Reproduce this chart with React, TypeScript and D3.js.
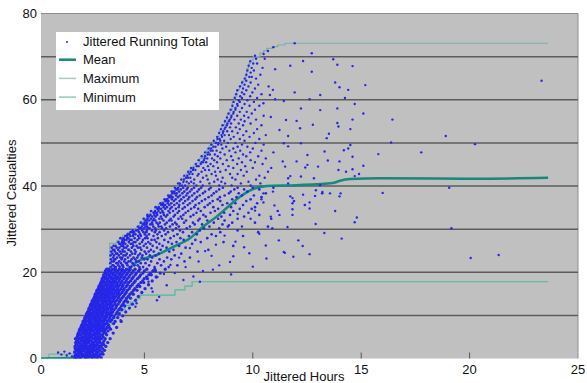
import React from 'react';
import * as d3 from 'd3';

// axis ticks
const xTicks = [0, 5, 10, 15, 20, 25];
const yTicks = [0, 20, 40, 60, 80];
const gridValues = [10, 20, 30, 40, 50, 60, 70];

// jittered running totals, one row per casualty level: [casualties, hours[]]
const coreRows: [number, number[]][] = [
  [0.2, [1.8, 1.87, 2.0, 2.09, 2.25, 2.31, 2.42, 2.56, 2.64, 2.76, 2.86, 3.01]],
  [0.6, [1.79, 1.91, 1.97, 2.13, 2.23, 2.29, 2.37, 2.51, 2.6, 2.7, 2.85, 2.92]],
  [1.0, [1.84, 1.9, 2.05, 2.11, 2.18, 2.34, 2.44, 2.49, 2.66, 2.73, 2.8, 2.97, 3.09]],
  [1.5, [1.78, 1.95, 2.02, 2.1, 2.27, 2.33, 2.47, 2.55, 2.62, 2.79, 2.88, 3.05]],
  [1.9, [1.86, 1.93, 2.07, 2.16, 2.21, 2.39, 2.43, 2.58, 2.71, 2.77, 2.95, 3.16]],
  [2.3, [1.82, 1.88, 1.99, 2.12, 2.2, 2.3, 2.41, 2.52, 2.63, 2.68, 2.83, 2.91, 3.07]],
  [2.8, [1.8, 1.96, 2.04, 2.15, 2.24, 2.36, 2.45, 2.53, 2.65, 2.75, 2.9, 3.0, 3.22]],
  [3.2, [1.85, 1.9, 2.06, 2.1, 2.26, 2.32, 2.49, 2.58, 2.7, 2.8, 2.86, 3.03, 3.13]],
  [3.7, [1.83, 1.98, 2.02, 2.19, 2.28, 2.35, 2.43, 2.6, 2.67, 2.82, 2.94, 3.08, 3.31]],
  [4.1, [1.88, 1.93, 2.08, 2.14, 2.23, 2.38, 2.5, 2.55, 2.72, 2.78, 2.93, 3.14]],
  [4.6, [1.82, 1.97, 2.05, 2.17, 2.3, 2.34, 2.46, 2.62, 2.69, 2.81, 2.89, 3.02, 3.19, 3.42]],
  [5.0, [1.9, 1.95, 2.11, 2.2, 2.27, 2.41, 2.52, 2.58, 2.74, 2.86, 2.95, 3.1]],
  [5.5, [1.92, 2.04, 2.09, 2.25, 2.32, 2.45, 2.56, 2.65, 2.7, 2.84, 2.99, 3.06, 3.26]],
  [5.9, [1.95, 2.0, 2.15, 2.24, 2.37, 2.43, 2.51, 2.67, 2.78, 2.87, 2.92, 3.12, 3.21, 3.56]],
  [6.4, [1.99, 2.1, 2.18, 2.29, 2.35, 2.5, 2.61, 2.66, 2.8, 2.93, 3.03, 3.16, 3.32]],
  [6.8, [2.02, 2.08, 2.22, 2.31, 2.44, 2.53, 2.59, 2.75, 2.83, 2.97, 3.08, 3.2, 3.44]],
  [7.2, [2.07, 2.16, 2.24, 2.39, 2.47, 2.55, 2.7, 2.78, 2.89, 3.0, 3.11, 3.27, 3.38, 3.72]],
  [7.7, [2.1, 2.2, 2.33, 2.38, 2.52, 2.63, 2.69, 2.84, 2.94, 3.06, 3.15, 3.35]],
  [8.1, [2.15, 2.23, 2.3, 2.45, 2.57, 2.62, 2.77, 2.88, 2.96, 3.11, 3.24, 3.3, 3.58]],
  [8.6, [2.17, 2.28, 2.41, 2.49, 2.55, 2.72, 2.81, 2.91, 3.03, 3.12, 3.28, 3.43, 3.65, 3.93]],
  [9.0, [2.23, 2.3, 2.44, 2.52, 2.66, 2.74, 2.87, 2.95, 3.09, 3.2, 3.36, 3.5]],
  [9.5, [2.25, 2.37, 2.46, 2.6, 2.68, 2.79, 2.92, 3.01, 3.16, 3.24, 3.39, 3.58, 3.77]],
  [9.9, [2.31, 2.4, 2.5, 2.58, 2.73, 2.84, 2.9, 3.06, 3.19, 3.27, 3.45, 3.6, 4.0]],
  [10.4, [2.33, 2.46, 2.56, 2.64, 2.77, 2.88, 3.0, 3.08, 3.23, 3.35, 3.48, 3.7, 3.84]],
  [10.8, [2.38, 2.47, 2.62, 2.7, 2.8, 2.94, 3.04, 3.14, 3.28, 3.42, 3.54, 3.75, 4.14]],
  [11.3, [2.43, 2.51, 2.61, 2.76, 2.86, 2.96, 3.1, 3.2, 3.31, 3.47, 3.6, 3.82, 3.96]],
  [11.7, [2.45, 2.59, 2.69, 2.78, 2.91, 3.02, 3.12, 3.26, 3.38, 3.5, 3.68, 3.88, 4.31]],
  [12.2, [2.5, 2.6, 2.73, 2.84, 2.93, 3.07, 3.18, 3.28, 3.43, 3.55, 3.71, 3.94, 4.09]],
  [12.6, [2.53, 2.66, 2.76, 2.87, 3.0, 3.09, 3.24, 3.35, 3.46, 3.63, 3.78, 4.01, 4.45]],
  [13.1, [2.58, 2.69, 2.81, 2.9, 3.05, 3.16, 3.25, 3.4, 3.52, 3.65, 3.85, 4.06, 4.23]],
  [13.5, [2.61, 2.74, 2.84, 2.98, 3.06, 3.2, 3.33, 3.42, 3.58, 3.73, 3.89, 4.14, 4.59]],
  [14.0, [2.67, 2.77, 2.89, 3.01, 3.14, 3.23, 3.37, 3.5, 3.61, 3.79, 3.96, 4.18, 4.36]],
  [14.4, [2.71, 2.8, 2.95, 3.04, 3.17, 3.28, 3.4, 3.55, 3.67, 3.82, 4.03, 4.26, 4.72]],
  [14.9, [2.73, 2.87, 2.98, 3.1, 3.2, 3.35, 3.47, 3.58, 3.75, 3.88, 4.1, 4.33, 4.49]],
  [15.3, [2.79, 2.89, 3.01, 3.15, 3.25, 3.39, 3.5, 3.66, 3.8, 3.97, 4.16, 4.42, 4.88]],
  [15.8, [2.81, 2.95, 3.07, 3.17, 3.31, 3.42, 3.57, 3.71, 3.84, 4.03, 4.21, 4.5, 4.66]],
  [16.2, [2.87, 2.97, 3.11, 3.24, 3.34, 3.49, 3.6, 3.76, 3.92, 4.07, 4.3, 4.56, 5.03]],
  [16.7, [2.9, 3.03, 3.13, 3.28, 3.41, 3.52, 3.67, 3.8, 3.98, 4.16, 4.35, 4.66, 4.79]],
  [17.1, [2.95, 3.05, 3.2, 3.3, 3.45, 3.56, 3.72, 3.87, 4.02, 4.22, 4.44, 4.72, 5.19]],
  [17.6, [2.99, 3.11, 3.22, 3.37, 3.48, 3.63, 3.76, 3.93, 4.1, 4.27, 4.52, 4.83, 4.97]],
  [18.0, [3.03, 3.13, 3.28, 3.39, 3.54, 3.66, 3.83, 3.97, 4.16, 4.36, 4.58, 4.92, 5.36]],
  [18.5, [3.05, 3.19, 3.3, 3.46, 3.57, 3.73, 3.86, 4.05, 4.21, 4.43, 4.68, 4.99, 5.14]],
  [18.9, [3.11, 3.21, 3.37, 3.48, 3.64, 3.76, 3.94, 4.09, 4.29, 4.49, 4.76, 5.1, 5.54]],
  [19.4, [3.12, 3.27, 3.39, 3.55, 3.67, 3.84, 3.98, 4.17, 4.34, 4.58, 4.83, 5.2, 5.32]],
  [19.8, [3.18, 3.29, 3.45, 3.57, 3.74, 3.87, 4.05, 4.21, 4.43, 4.63, 4.93, 5.27, 5.73]],
  [20.3, [3.2, 3.35, 3.47, 3.64, 3.77, 3.95, 4.09, 4.29, 4.48, 4.73, 5.0, 5.39, 5.51]],
  [20.7, [3.26, 3.37, 3.53, 3.66, 3.84, 3.98, 4.17, 4.34, 4.57, 4.79, 5.11, 5.48, 5.96]],
];

const midRows: [number, number[]][] = [
  [21.2, [3.45, 3.63, 3.68, 3.86, 4.03, 4.32, 4.39, 4.77, 4.94, 5.47, 6.12]],
  [21.6, [3.53, 3.57, 3.8, 3.97, 4.0, 4.22, 4.54, 4.69, 5.22, 5.77, 6.52]],
  [22.1, [3.43, 3.71, 3.76, 3.92, 4.15, 4.19, 4.46, 4.83, 5.05, 5.6]],
  [22.5, [3.5, 3.59, 3.84, 4.07, 4.27, 4.36, 4.62, 4.73, 5.31, 5.9, 6.85]],
  [23.0, [3.46, 3.62, 3.66, 3.95, 4.11, 4.41, 4.58, 4.99, 5.14, 5.7, 6.24]],
  [23.4, [3.56, 3.74, 3.89, 3.98, 4.24, 4.5, 4.67, 4.88, 5.36, 6.05, 7.1]],
  [23.9, [3.44, 3.6, 3.82, 4.04, 4.13, 4.34, 4.72, 4.91, 5.25, 5.52, 6.4]],
  [24.3, [3.52, 3.7, 3.75, 3.93, 4.19, 4.44, 4.57, 4.8, 5.08, 5.66, 6.7]],
  [24.8, [3.47, 3.64, 3.87, 4.0, 4.09, 4.38, 4.6, 5.01, 5.2, 5.43, 6.15, 7.45]],
  [25.2, [3.55, 3.61, 3.79, 3.99, 4.26, 4.29, 4.55, 4.86, 5.3, 5.75, 6.34, 7.95]],
  [25.7, [3.49, 3.72, 3.85, 4.06, 4.16, 4.42, 4.7, 4.81, 5.12, 5.58, 6.02, 6.9]],
  [26.1, [3.58, 3.67, 3.94, 4.02, 4.22, 4.49, 4.64, 4.97, 5.38, 5.84, 6.6, 9.1]],
  [26.6, [3.84, 3.9, 4.01, 4.12, 4.37, 4.45, 4.78, 5.06, 5.27, 5.69, 6.27, 7.2]],
  [27.0, [3.8, 3.97, 4.05, 4.28, 4.51, 4.59, 4.89, 5.18, 5.55, 6.1, 6.48, 7.6, 8.65]],
  [27.5, [3.99, 4.07, 4.17, 4.33, 4.41, 4.68, 4.93, 5.33, 5.47, 5.92, 6.81, 7.35]],
  [27.9, [3.9, 4.04, 4.21, 4.26, 4.55, 4.76, 5.03, 5.14, 5.62, 6.2, 6.66, 7.9]],
  [28.4, [4.12, 4.2, 4.35, 4.47, 4.71, 4.84, 5.1, 5.42, 5.8, 6.36, 7.05, 8.3, 9.55]],
  [28.8, [4.23, 4.3, 4.5, 4.59, 4.8, 5.02, 5.21, 5.6, 5.98, 6.52, 7.42, 8.1]],
  [29.3, [4.36, 4.44, 4.52, 4.75, 4.96, 5.09, 5.48, 5.7, 6.09, 6.78, 7.2, 8.5, 10.25]],
  [29.7, [4.46, 4.62, 4.7, 4.9, 5.11, 5.35, 5.53, 5.91, 6.31, 6.64, 7.56, 9.3]],
  [30.2, [4.78, 4.84, 4.98, 5.15, 5.24, 5.5, 5.82, 6.0, 6.46, 6.95, 7.75, 8.45]],
  [30.6, [4.71, 4.88, 5.05, 5.13, 5.41, 5.66, 5.78, 6.18, 6.59, 7.1, 8.0, 8.85, 10.7]],
  [31.1, [4.93, 4.99, 5.09, 5.27, 5.37, 5.63, 5.95, 6.3, 6.49, 7.32, 7.66, 8.6]],
  [31.5, [4.84, 5.01, 5.12, 5.35, 5.56, 5.71, 6.03, 6.42, 6.83, 7.24, 8.2, 9.05, 10.1]],
  [32.0, [5.05, 5.1, 5.22, 5.39, 5.5, 5.88, 6.14, 6.25, 6.92, 7.48, 7.9, 8.7]],
  [32.4, [4.97, 5.14, 5.3, 5.44, 5.69, 5.81, 6.21, 6.57, 6.74, 7.55, 8.4, 9.3, 10.85]],
  [32.9, [5.16, 5.21, 5.36, 5.52, 5.76, 5.99, 6.35, 6.68, 7.13, 7.83, 8.55, 9.6]],
  [33.3, [5.14, 5.28, 5.46, 5.59, 5.9, 6.06, 6.41, 6.8, 7.26, 7.72, 8.95, 10.3]],
  [33.8, [5.42, 5.48, 5.58, 5.74, 5.87, 6.17, 6.53, 6.9, 7.4, 8.05, 8.68, 9.8]],
  [34.2, [5.31, 5.49, 5.65, 5.83, 6.11, 6.32, 6.6, 7.02, 7.6, 8.25, 9.1, 11.15]],
  [34.7, [5.6, 5.66, 5.77, 5.96, 6.19, 6.45, 6.76, 7.15, 7.48, 8.4, 9.4, 9.95]],
  [35.1, [5.52, 5.66, 5.89, 6.04, 6.26, 6.58, 6.86, 7.3, 7.78, 8.18, 9.0, 10.1]],
  [35.6, [5.78, 5.85, 5.96, 6.15, 6.38, 6.61, 7.0, 7.36, 7.92, 8.6, 9.55, 12.4]],
  [36.0, [5.74, 5.86, 6.08, 6.24, 6.5, 6.79, 7.1, 7.52, 8.02, 8.82, 9.2, 10.2]],
  [36.5, [5.97, 6.03, 6.11, 6.36, 6.62, 6.88, 7.22, 7.65, 8.15, 8.5, 9.7, 11.9]],
  [36.9, [5.93, 6.05, 6.27, 6.44, 6.7, 7.01, 7.35, 7.8, 8.38, 9.05, 9.9]],
  [37.4, [6.14, 6.2, 6.3, 6.55, 6.81, 7.07, 7.42, 7.96, 8.48, 9.25, 10.4]],
  [37.8, [6.1, 6.22, 6.46, 6.64, 6.93, 7.2, 7.55, 8.1, 8.7, 9.5, 10.05]],
  [38.3, [6.3, 6.39, 6.49, 6.75, 6.99, 7.3, 7.7, 8.2, 8.9, 9.35, 10.6, 13.2]],
  [38.7, [6.26, 6.38, 6.6, 6.84, 7.1, 7.44, 7.8, 8.32, 8.98, 9.75]],
  [39.2, [6.47, 6.53, 6.68, 6.95, 7.18, 7.52, 7.98, 8.45, 9.15, 9.6, 10.3]],
  [39.6, [6.41, 6.56, 6.79, 7.0, 7.29, 7.62, 8.06, 8.62, 9.3, 10.0, 10.95]],
];

const upperRows: [number, number[]][] = [
  [40.1, [6.64, 6.74, 6.88, 7.4, 7.69, 8.45, 9.02, 9.9]],
  [40.6, [6.55, 6.63, 7.05, 7.28, 8.0, 8.72, 9.45, 10.35]],
  [41.0, [6.8, 6.95, 7.16, 7.58, 8.22, 8.55, 9.8]],
  [41.5, [6.7, 6.83, 7.3, 7.92, 8.38, 9.2, 10.15]],
  [41.9, [6.92, 7.01, 7.12, 7.7, 8.61, 9.05, 10.55]],
  [42.4, [6.84, 6.98, 7.45, 7.86, 8.3, 9.58, 10.3]],
  [42.8, [7.08, 7.22, 7.5, 8.1, 8.95, 9.3]],
  [43.3, [7.02, 7.14, 7.64, 8.26, 8.5, 9.72, 10.7]],
  [43.7, [7.24, 7.35, 7.8, 7.98, 8.75, 9.45]],
  [44.2, [7.15, 7.26, 7.72, 8.4, 9.1, 10.0, 10.85]],
  [44.6, [7.42, 7.5, 7.93, 8.18, 8.88, 9.65]],
  [45.1, [7.37, 7.6, 8.05, 8.62, 9.28, 10.45]],
  [45.5, [7.64, 7.71, 7.85, 8.35, 9.5, 10.1]],
  [46.0, [7.5, 7.74, 8.22, 8.8, 9.08, 9.9]],
  [46.4, [7.78, 7.9, 8.12, 8.5, 9.35, 10.6]],
  [46.9, [7.64, 7.8, 8.38, 9.0, 9.7, 10.25]],
  [47.3, [7.92, 8.02, 8.25, 8.7, 9.55]],
  [47.8, [7.8, 7.95, 8.5, 9.2, 9.88, 10.95]],
  [48.2, [8.06, 8.15, 8.33, 8.92, 9.42, 10.4]],
  [48.7, [7.96, 8.08, 8.6, 9.1, 10.0]],
  [49.1, [8.18, 8.28, 8.77, 9.3, 9.75]],
  [49.6, [8.09, 8.4, 8.55, 9.5, 10.5]],
  [50.0, [8.3, 8.42, 8.85, 9.2, 10.12]],
  [50.5, [8.2, 8.5, 8.68, 9.62]],
  [50.9, [8.38, 8.47, 8.98, 9.4, 10.3]],
  [51.4, [8.36, 8.58, 9.12, 9.85]],
  [51.8, [8.56, 8.7, 8.9, 9.56, 10.6]],
  [52.3, [8.45, 8.62, 9.3, 10.05]],
  [52.7, [8.64, 8.82, 9.05, 9.7]],
  [53.2, [8.53, 8.7, 9.4, 10.2]],
  [53.6, [8.74, 8.95, 9.22]],
  [54.1, [8.61, 8.8, 9.55, 10.4]],
  [54.5, [8.83, 9.0, 9.35, 9.9]],
  [55.0, [8.72, 8.9, 9.62]],
  [55.4, [8.94, 9.15, 9.45, 10.15]],
  [55.9, [8.81, 9.0, 9.8]],
  [56.3, [9.02, 9.28, 9.6, 10.5]],
  [56.8, [8.88, 9.1, 9.95]],
  [57.2, [9.12, 9.4, 9.72]],
  [57.7, [8.98, 9.2, 10.1]],
  [58.1, [9.2, 9.5]],
  [58.6, [9.06, 9.3, 9.85, 10.3]],
  [59.0, [9.28, 9.62]],
  [59.5, [9.11, 9.4, 10.05]],
  [59.9, [9.35, 9.75]],
  [60.4, [9.17, 9.5, 10.2]],
  [60.8, [9.42, 9.88]],
  [61.3, [9.23, 9.6, 10.4]],
  [61.7, [9.5, 9.98]],
  [62.2, [9.29, 9.7]],
  [62.6, [9.55, 10.1]],
  [63.1, [9.41, 9.8]],
  [63.5, [9.62, 10.25]],
  [64.0, [9.51, 9.9]],
  [64.4, [9.7]],
  [64.9, [9.63, 10.15]],
  [65.3, [9.84, 9.95]],
  [65.8, [9.7, 10.35]],
  [66.3, [9.9]],
  [66.8, [9.75, 10.05]],
  [67.4, [9.95, 10.45]],
  [67.9, [9.81]],
  [68.4, [10.02, 10.2]],
  [68.9, [9.88]],
  [69.5, [10.15, 10.55]],
  [70.2, [10.1]],
  [70.6, [10.5]],
  [71.3, [10.7]],
  [72.2, [10.95]],
];

// scattered points away from the main cloud: [hours, casualties]
const sparsePoints: [number, number][] = [
  [11.93, 73.1], [12.72, 70.8], [12.32, 69.0], [11.73, 67.9], [13.71, 69.4], [13.9, 68.1], [14.6, 67.8],
  [12.72, 66.5], [11.03, 67.1], [13.8, 64.0], [14.0, 62.9], [14.4, 62.3], [14.25, 60.4], [15.19, 63.4],
  [13.11, 61.1], [12.62, 60.1], [11.93, 61.7], [11.43, 59.7], [12.22, 58.0], [13.11, 57.6], [13.9, 58.0],
  [14.7, 59.0], [15.1, 56.8], [12.02, 55.1], [12.77, 54.2], [13.9, 54.6], [13.95, 53.8], [14.6, 55.4],
  [12.18, 53.4], [13.51, 52.1], [13.41, 51.1], [14.5, 53.2], [14.5, 49.5], [14.4, 48.7], [14.6, 46.8],
  [13.31, 48.0], [14.2, 48.3], [12.52, 47.2], [12.22, 49.9], [11.63, 51.6], [11.63, 49.2], [12.02, 45.7],
  [13.46, 45.9], [13.95, 43.7], [14.3, 43.3], [14.7, 42.3], [13.01, 44.5], [12.52, 44.9], [11.73, 42.3],
  [12.91, 39.0], [13.21, 38.6], [14.05, 38.3], [12.62, 36.2], [11.73, 37.6], [11.83, 36.0], [11.63, 40.6],
  [11.38, 45.7], [11.53, 55.3], [11.23, 53.0], [11.43, 49.9], [10.83, 56.0], [11.03, 60.1], [10.93, 62.3],
  [10.73, 63.1], [10.49, 59.2], [10.79, 61.1],
  [23.32, 64.4], [18.9, 51.6], [20.25, 49.7], [16.38, 50.1], [17.77, 47.8], [16.44, 55.4], [19.06, 39.6],
  [15.99, 38.4], [15.79, 47.4],
  [11.49, 44.5], [12.42, 44.3], [14.0, 45.7], [14.6, 43.9], [15.1, 44.7], [14.9, 42.8], [12.22, 42.2],
  [11.63, 41.8], [12.82, 41.8], [13.11, 40.2], [12.32, 38.0], [12.87, 37.7], [13.56, 38.3], [14.0, 37.6],
  [11.83, 37.2], [11.83, 34.6], [12.62, 34.8], [11.83, 33.3], [11.23, 33.3], [10.83, 32.9], [14.8, 32.7],
  [10.49, 36.2], [10.49, 38.3], [10.93, 38.7],
  [11.48, 24.5], [12.62, 24.2], [20.05, 23.3], [21.34, 24.0], [19.16, 30.2],
  [8.45, 21.6], [8.95, 22.4], [7.26, 19.0], [8.16, 20.6], [11.43, 24.7], [10.63, 23.2], [11.87, 23.6],
  [9.1, 23.7], [9.84, 24.4], [7.56, 17.8], [5.58, 13.5], [5.68, 14.3], [5.38, 15.5], [4.59, 12.0],
  [4.64, 12.8], [3.9, 8.9], [5.33, 16.3], [6.03, 17.0], [5.19, 17.8], [4.79, 19.0],
  [6.4, 19.8], [6.9, 21.2], [7.5, 22.5], [7.8, 24.9], [8.3, 26.4], [8.7, 28.5], [9.2, 27.1], [9.5, 30.6],
  [9.9, 32.4], [10.3, 28.9], [10.6, 26.2], [9.6, 25.8], [8.9, 30.9], [10.1, 34.3], [10.9, 30.2], [11.2, 27.4],
  [7.1, 25.6], [6.6, 23.4], [8.1, 23.8], [9.3, 33.5], [10.4, 36.9], [11.0, 35.5], [12.1, 27.4], [13.3, 29.1],
  [14.1, 27.8], [12.9, 31.2], [14.7, 31.6], [13.8, 34.2], [11.6, 30.5], [12.3, 26.1], [6.2, 21.7], [5.9, 19.6],
  [7.7, 20.3], [9.0, 19.5], [10.0, 21.3], [5.6, 18.9], [6.8, 18.2], [1.02, 1.4], [1.17, 0.9], [1.31, 1.6],
  [1.42, 0.7], [1.55, 1.2], [1.66, 0.5],
];

// summary lines: [hours, casualties]
const meanLine: [number, number][] = [
  [0, 0], [1.72, 0.1], [1.9, 1.1], [2.1, 2.7], [2.4, 5.6], [2.7, 8.9], [3.0, 12.2], [3.3, 15.2], [3.6, 17.7],
  [3.9, 19.4], [4.18, 20.5], [4.8, 22.8], [5.57, 24.0], [6.33, 25.9], [7.1, 27.9], [7.72, 30.6], [8.33, 32.9],
  [8.95, 35.6], [9.41, 37.5], [10.02, 39.3], [10.64, 40.0], [12.02, 40.2], [13.71, 40.7], [14.02, 41.2],
  [14.48, 41.6], [15.87, 41.8], [20.16, 41.7], [23.62, 41.9],
];

const maxSteps: [number, number][] = [
  [0, 0], [0.6, 1], [1.75, 2.5], [1.8, 4], [1.86, 5], [1.93, 6], [2.02, 7], [2.12, 8], [2.22, 9], [2.32, 10],
  [2.41, 11], [2.5, 12], [2.59, 13], [2.68, 14], [2.77, 15], [2.86, 16], [2.95, 17], [3.04, 18], [3.13, 19],
  [3.22, 20], [3.3, 21], [3.4, 26.7], [3.72, 27.3], [3.84, 28], [4.0, 28.6], [4.2, 29.2], [4.41, 29.8],
  [4.64, 30.6], [4.78, 31.6], [4.95, 32.5], [5.1, 33.3], [5.26, 34.0], [5.49, 35.2], [5.65, 35.8], [5.8, 36.4],
  [5.95, 37.1], [6.1, 38.0], [6.25, 38.9], [6.41, 39.8], [6.55, 40.6], [6.79, 42.2], [6.95, 43.0], [7.1, 43.8],
  [7.25, 44.6], [7.41, 45.3], [7.55, 46.4], [7.7, 47.3], [7.87, 48.3], [8.0, 49.4], [8.15, 50.3], [8.33, 51.4],
  [8.45, 52.8], [8.57, 54.1], [8.7, 55.3], [8.82, 56.5], [8.95, 57.6], [9.05, 59.3], [9.15, 60.8], [9.26, 62.3],
  [9.38, 63.2], [9.5, 64.3], [9.64, 65.3], [9.72, 67.2], [9.8, 68.3], [9.87, 69.2], [10.02, 70.0], [10.33, 70.8],
  [10.5, 71.4], [10.64, 71.9], [10.9, 72.3], [11.15, 72.7], [11.48, 73.1], [23.62, 73.1],
];

const minSteps: [number, number][] = [
  [0, 0], [2.05, 0.6], [2.3, 1.6], [2.5, 2.6], [2.7, 3.8], [2.9, 5.2], [3.1, 6.6], [3.3, 8.0], [3.5, 9.3],
  [3.7, 10.4], [3.9, 11.4], [4.1, 12.3], [4.35, 13.1], [4.6, 13.9], [4.8, 14.7], [6.41, 15.9], [6.87, 16.8],
  [7.2, 17.8], [23.62, 17.8],
];

const W = 587;
const H = 383;
const plot = { left: 41, right: 578, top: 13.5, bottom: 358.5 };
const font = '"Liberation Sans", Arial, Helvetica, sans-serif';

const MEAN_COLOR = '#138a7a';
const MAX_COLOR = '#79aeaa';
const MIN_COLOR = '#4fba9d';
const DOT_COLOR = '#2626ea';

export default function App() {
  const x = d3.scaleLinear().domain([0, 25]).range([36, 578]);
  const y = d3.scaleLinear().domain([0, 80]).range([358.5, 13.5]);

  // dot radius grows a little in the dense core, like the overplotted original
  const toPoints = (rows: [number, number[]][], r: number) =>
    rows.flatMap(([v, hs]) => hs.map(h => ({ h, v, r })));
  const points = [
    ...toPoints(coreRows, 1.65),
    ...toPoints(midRows, 1.35),
    ...toPoints(upperRows, 1.2),
    ...sparsePoints.map(([h, v]) => ({ h, v, r: 1.2 })),
  ];

  const meanPath = d3.line<[number, number]>().x(d => x(d[0])).y(d => y(d[1])).curve(d3.curveMonotoneX);
  const stepPath = d3.line<[number, number]>().x(d => x(d[0])).y(d => y(d[1])).curve(d3.curveStepAfter);

  const legendItems = [
    { label: 'Jittered Running Total', kind: 'dot' },
    { label: 'Mean', kind: 'line', color: MEAN_COLOR, width: 2.5 },
    { label: 'Maximum', kind: 'line', color: '#a9c8c6', width: 1.5 },
    { label: 'Minimum', kind: 'line', color: '#86d0bb', width: 1.5 },
  ];

  return (
    <div style={{ position: 'absolute', left: 0, top: 0 }}>
      <svg width={W} height={H} style={{ display: 'block', background: '#fff' }} fontFamily={font}>
        <defs>
          <clipPath id="plotClip">
            <rect x={plot.left} y={plot.top} width={plot.right - plot.left} height={plot.bottom - plot.top} />
          </clipPath>
        </defs>
        <rect x={plot.left} y={plot.top} width={plot.right - plot.left} height={plot.bottom - plot.top} fill="#c0c0c0" />
        <line x1={plot.left} x2={plot.right} y1={plot.top} y2={plot.top} stroke="#8e8e8e" strokeWidth={1} />
        <line x1={plot.right} x2={plot.right} y1={plot.top} y2={plot.bottom} stroke="#8e8e8e" strokeWidth={1} />
        {gridValues.map(g => (
          <line key={g} x1={plot.left} x2={plot.right} y1={y(g)} y2={y(g)} stroke="#5c5c5c" strokeWidth={1.5} />
        ))}
        {xTicks.filter(t => t > 0 && t < 25).map(t => (
          <line key={t} x1={x(t)} x2={x(t)} y1={plot.bottom} y2={plot.bottom - 6} stroke="#555" strokeWidth={1} />
        ))}

        <g clipPath="url(#plotClip)">
          <path d={stepPath(maxSteps) || ''} fill="none" stroke={MAX_COLOR} strokeWidth={1.2} />
          <path d={stepPath(minSteps) || ''} fill="none" stroke={MIN_COLOR} strokeWidth={1.2} />
          <path d={meanPath(meanLine) || ''} fill="none" stroke={MEAN_COLOR} strokeWidth={2.5} />
          {points.map((p, i) => (
            <circle key={i} cx={x(p.h)} cy={y(p.v)} r={p.r} fill={DOT_COLOR} />
          ))}
        </g>

        {yTicks.map(t => (
          <text key={t} x={37} y={y(t)} dy="0.35em" textAnchor="end" fontSize={13} fill="#111">{t}</text>
        ))}
        {xTicks.map(t => (
          <text key={t} x={t === 0 ? plot.left : x(t)} y={374} textAnchor="middle" fontSize={13} fill="#111">{t}</text>
        ))}
        <text x={304} y={381} textAnchor="middle" fontSize={13} fill="#111">Jittered Hours</text>
        <text transform="translate(16,193) rotate(-90)" textAnchor="middle" fontSize={13} fill="#111">Jittered Casualties</text>

        <g>
          <rect x={56} y={32} width={163} height={78} fill="#fff" />
          {legendItems.map((item, i) => {
            const cy = 41 + i * 18.7;
            return (
              <g key={item.label}>
                {item.kind === 'dot' ? (
                  <circle cx={67} cy={cy + 1} r={1} fill={DOT_COLOR} />
                ) : (
                  <line x1={59} x2={76} y1={cy} y2={cy} stroke={item.color} strokeWidth={item.width} />
                )}
                <text x={83} y={cy} dy="0.35em" fontSize={13} fill="#111">{item.label}</text>
              </g>
            );
          })}
        </g>
      </svg>
    </div>
  );
}
